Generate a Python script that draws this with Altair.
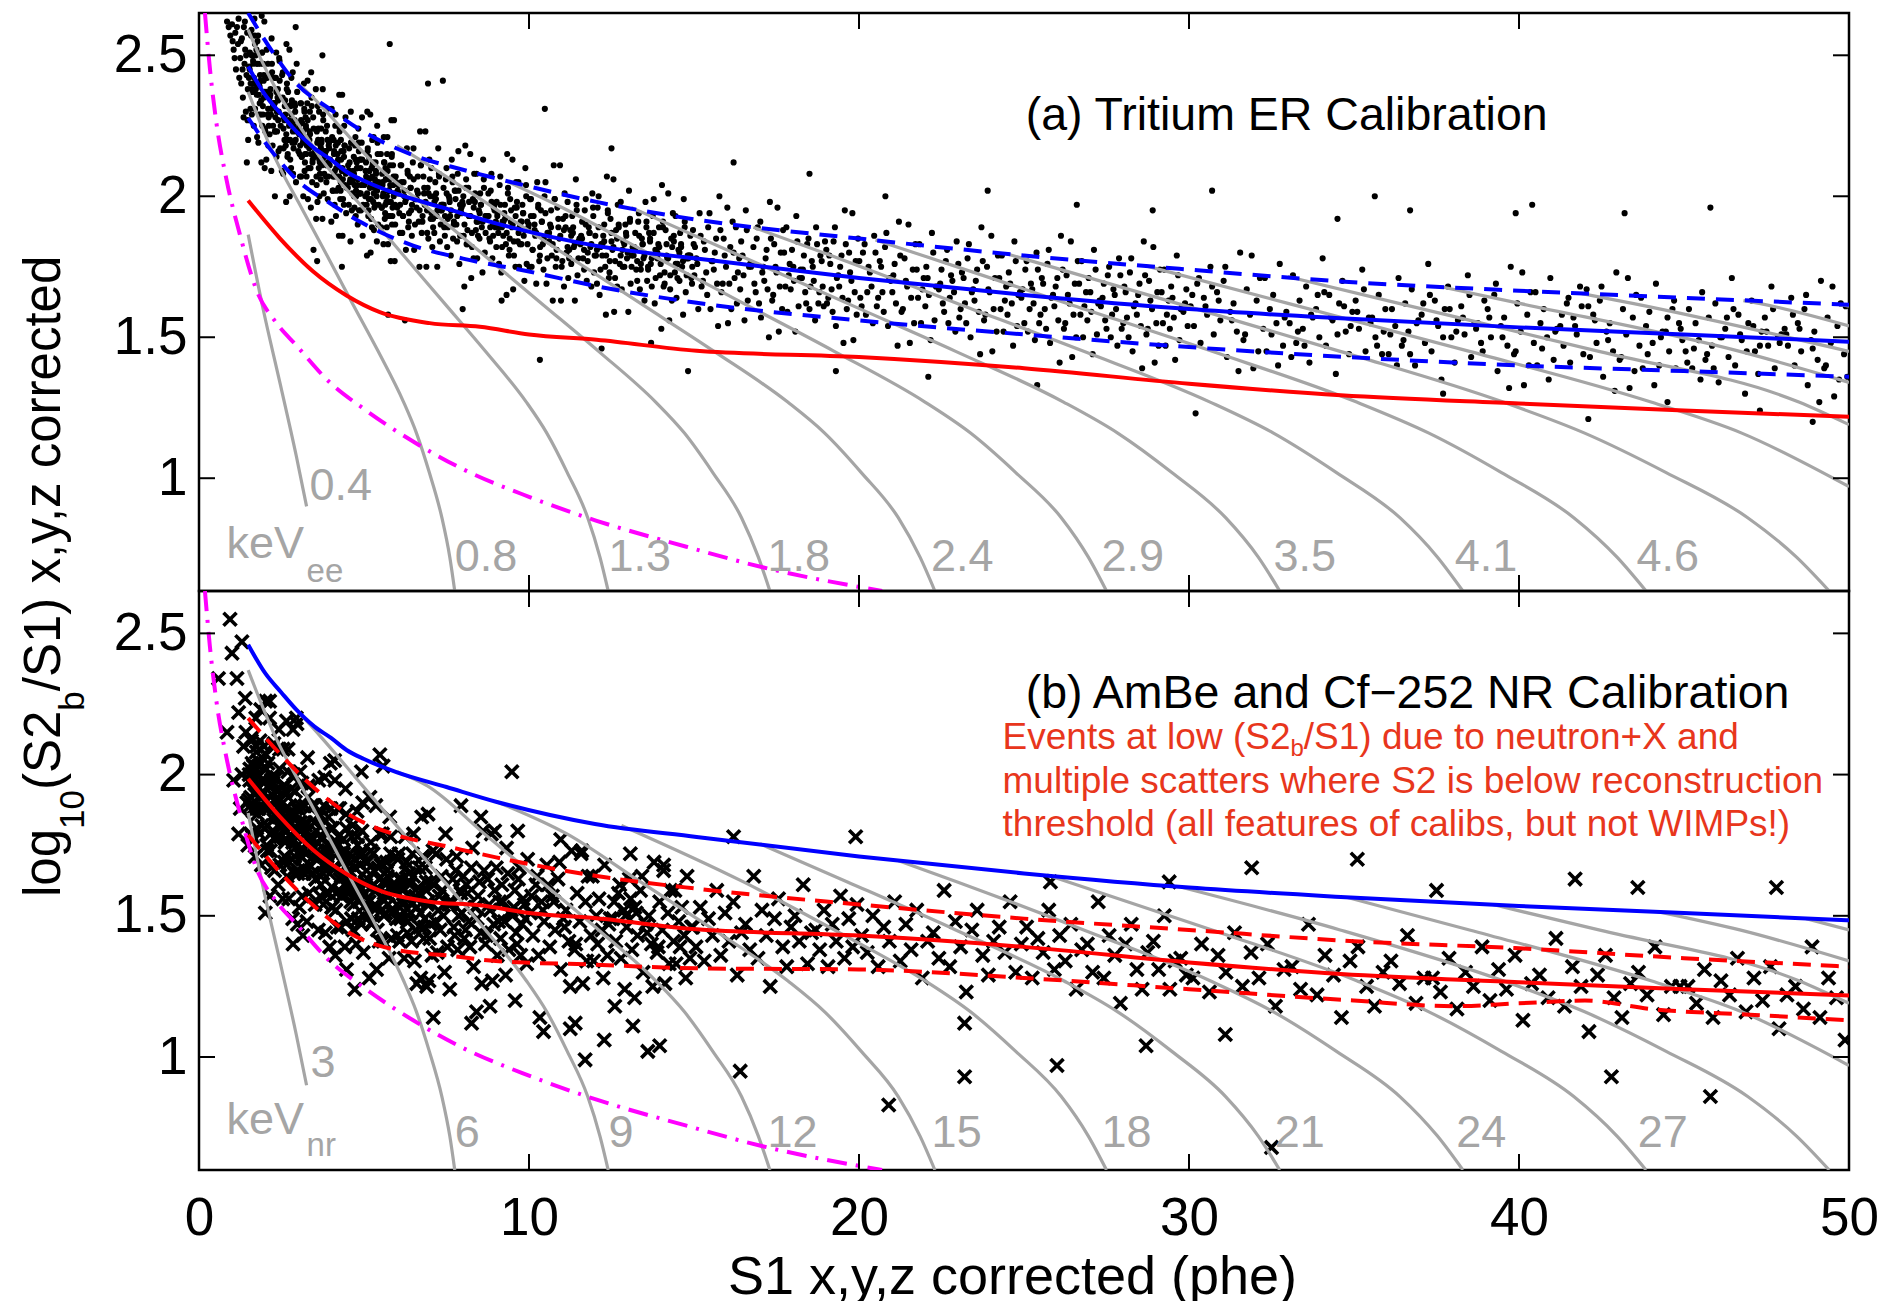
import altair as alt
import pandas as pd

FONT = "Liberation Sans"
GRAY = "#a5a5a5"
BLUE = "#0000ff"
RED = "#ff0000"
MAGENTA = "#ff00ff"
NOTE = "#e8361c"
W, H1, H2 = 1650, 578, 579

x_ticks = [0, 10, 20, 30, 40, 50]
y_ticks = [1, 1.5, 2, 2.5]

# ---------------- panel (a): tritium ER events (S1, log10(S2b/S1)) ----------------
er_points = [
(0.85,2.62),(0.95,2.57),(1.0,2.61),(1.05,2.52),(1.1,2.58),(1.12,2.45),(1.18,2.54),(1.2,2.63),(1.25,2.49),(1.28,2.4),(1.3,2.56),(1.33,2.35),(1.36,2.6),(1.38,2.47),(1.4,2.52),(1.42,2.3),(1.44,2.43),(1.46,2.58),(1.48,2.38),(1.49,2.2),
(1.52,2.46),(1.55,2.37),(1.58,2.57),(1.6,2.29),(1.63,2.5),(1.65,2.4),(1.68,2.63),(1.7,2.31),(1.72,2.5),(1.75,2.36),(1.77,2.55),(1.8,2.19),(1.82,2.4),(1.85,2.43),(1.87,2.29),(1.9,2.64),(1.92,2.25),(1.95,2.47),(1.97,2.35),(1.99,2.1),
(2.02,2.42),(2.05,2.52),(2.08,2.29),(2.1,2.18),(2.13,2.37),(2.15,2.43),(2.18,2.29),(2.2,2.56),(2.23,2.18),(2.25,2.33),(2.28,2.33),(2.3,2.23),(2.33,2.42),(2.35,2.14),(2.38,2.35),(2.4,2.27),(2.43,2.49),(2.46,2.17),
(2.52,2.43),(2.55,2.08),(2.57,2.28),(2.6,2.32),(2.63,2.18),(2.65,2.54),(2.68,2.14),(2.7,2.37),(2.73,2.25),(2.75,2.0),(2.78,2.32),(2.8,2.42),(2.83,2.19),(2.85,2.08),(2.88,2.27),(2.9,2.33),(2.93,2.2),(2.96,2.47),
(3.02,2.24),(3.05,2.15),(3.08,2.33),(3.1,2.07),(3.13,2.26),(3.15,2.19),(3.18,2.4),(3.2,2.09),(3.23,2.28),(3.25,2.15),(3.28,2.33),(3.3,1.99),(3.33,2.19),(3.35,2.23),(3.38,2.1),(3.4,2.44),(3.43,2.05),(3.46,2.28),
(3.52,2.16),(3.55,1.92),(3.57,2.23),(3.6,2.32),(3.63,2.1),(3.65,2.0),(3.68,2.18),(3.7,2.24),(3.73,2.11),(3.75,2.38),(3.78,2.01),(3.8,2.15),(3.83,2.16),(3.85,2.07),(3.88,2.25),(3.9,1.99),(3.93,2.18),(3.96,2.11),
(4.02,2.31),(4.05,2.02),(4.08,2.2),(4.1,2.07),(4.13,2.25),(4.15,1.93),(4.18,2.12),(4.2,2.15),(4.23,2.03),(4.25,2.36),(4.28,1.99),(4.3,2.2),(4.33,2.09),(4.35,1.86),(4.38,2.16),(4.4,2.25),(4.43,2.04),(4.46,1.94),
(4.52,2.11),(4.55,2.17),(4.57,2.05),(4.6,2.3),(4.63,1.95),(4.65,2.08),(4.68,2.09),(4.7,2.0),(4.73,2.18),(4.75,1.93),(4.78,2.12),(4.8,2.04),(4.83,2.24),(4.85,1.95),(4.88,2.13),(4.9,2.01),(4.93,2.19),(4.96,1.86),
(5.02,2.05),(5.05,2.09),(5.08,1.97),(5.1,2.3),(5.13,1.93),(5.15,2.14),(5.18,2.03),(5.2,1.8),(5.23,2.1),(5.25,2.2),(5.28,1.98),(5.3,1.88),(5.33,2.06),(5.35,2.12),(5.38,2.0),(5.4,2.25),(5.43,1.9),(5.46,2.04),
(5.52,1.89),(5.55,2.08),(5.57,2.0),(5.6,2.21),(5.63,1.92),(5.65,2.1),(5.68,1.98),(5.7,2.15),(5.73,1.83),(5.75,2.02),(5.78,2.06),(5.8,1.93),(5.83,2.27),(5.85,1.9),(5.88,2.11),(5.9,2.0),(5.93,1.77),(5.96,2.07),
(6.02,2.02),(6.07,1.94),(6.11,2.11),(6.16,1.87),(6.2,2.05),(6.25,1.98),(6.3,2.17),(6.34,1.89),(6.39,2.07),(6.43,1.95),(6.48,2.12),(6.52,1.81),(6.57,1.99),(6.61,2.02),(6.66,1.91),(6.7,2.23),(6.75,1.87),(6.8,2.07),(6.84,1.97),(6.89,1.75),(6.93,2.03),(6.98,2.13),
(7.02,1.92),(7.07,1.82),(7.11,2.0),(7.16,2.05),(7.2,1.93),(7.25,2.17),(7.3,1.84),(7.34,1.97),(7.39,1.97),(7.43,1.89),(7.48,2.06),(7.52,1.82),(7.57,2.0),(7.61,1.93),(7.66,2.13),(7.7,1.85),(7.75,2.02),(7.8,1.9),(7.84,2.08),(7.89,1.76),(7.93,1.95),(7.98,1.98),
(8.02,1.86),(8.07,2.18),(8.11,1.83),(8.16,2.03),(8.2,1.93),(8.25,1.71),(8.3,1.99),(8.34,2.08),(8.39,1.88),(8.43,1.78),(8.48,1.95),(8.52,2.01),(8.57,1.89),(8.61,2.13),(8.66,1.8),(8.7,1.93),(8.75,1.93),(8.8,1.85),(8.84,2.02),(8.89,1.78),(8.93,1.96),(8.98,1.89),
(9.02,1.98),(9.07,1.87),(9.11,2.04),(9.16,1.73),(9.2,1.91),(9.25,1.94),(9.3,1.83),(9.34,2.15),(9.39,1.79),(9.43,1.99),(9.48,1.89),(9.52,1.67),(9.57,1.96),(9.61,2.05),(9.66,1.84),(9.7,1.75),(9.75,1.91),(9.8,1.97),(9.84,1.86),(9.89,2.1),(9.93,1.76),(9.98,1.89),
(10.03,1.99),(10.08,1.75),(10.14,1.93),(10.19,1.86),(10.25,2.05),(10.31,1.77),(10.36,1.95),(10.42,1.83),(10.47,2.0),(10.53,1.69),(10.58,1.87),(10.64,1.9),(10.69,1.79),(10.75,2.11),(10.81,1.75),(10.86,1.96),(10.92,1.85),(10.97,1.63),
(11.03,1.92),(11.08,2.01),(11.14,1.8),(11.19,1.71),(11.25,1.88),(11.31,1.93),(11.36,1.82),(11.42,2.06),(11.47,1.72),(11.53,1.85),(11.58,1.86),(11.64,1.78),(11.69,1.95),(11.75,1.7),(11.81,1.89),(11.86,1.82),(11.92,2.01),(11.97,1.73),
(12.03,1.79),(12.08,1.96),(12.14,1.65),(12.19,1.83),(12.25,1.86),(12.31,1.75),(12.36,2.07),(12.42,1.71),(12.47,1.92),(12.53,1.81),(12.58,1.59),(12.64,1.88),(12.69,1.97),(12.75,1.76),(12.81,1.67),(12.86,1.84),(12.92,1.9),(12.97,1.78),
(13.03,2.02),(13.08,1.69),(13.14,1.82),(13.19,1.82),(13.25,1.74),(13.31,1.91),(13.36,1.67),(13.42,1.85),(13.47,1.78),(13.53,1.98),(13.58,1.7),(13.64,1.87),(13.69,1.76),(13.75,1.93),(13.81,1.62),(13.86,1.8),(13.92,1.83),(13.97,1.72),
(14.03,2.04),(14.08,1.68),(14.14,1.88),(14.19,1.78),(14.25,1.56),(14.31,1.85),(14.36,1.94),(14.42,1.73),(14.47,1.64),(14.53,1.81),(14.58,1.87),(14.64,1.75),(14.69,1.99),(14.75,1.66),(14.81,1.79),(14.86,1.79),(14.92,1.71),(14.97,1.88),
(15.03,1.82),(15.1,1.76),(15.17,1.94),(15.23,1.68),(15.3,1.84),(15.37,1.73),(15.43,1.89),(15.5,1.6),(15.57,1.77),(15.63,1.8),(15.7,1.69),(15.77,2.0),(15.83,1.66),(15.9,1.85),(15.97,1.75),
(16.03,1.55),(16.1,1.82),(16.17,1.91),(16.23,1.71),(16.3,1.62),(16.37,1.78),(16.43,1.84),(16.5,1.72),(16.57,1.95),(16.63,1.63),(16.7,1.76),(16.77,1.76),(16.83,1.69),(16.9,1.85),(16.97,1.62),
(17.03,1.57),(17.1,1.75),(17.17,1.78),(17.23,1.67),(17.3,1.98),(17.37,1.63),(17.43,1.83),(17.5,1.73),(17.57,1.52),(17.63,1.8),(17.7,1.88),(17.77,1.68),(17.83,1.59),(17.9,1.76),(17.97,1.81),
(18.03,1.7),(18.1,1.93),(18.17,1.61),(18.23,1.74),(18.3,1.74),(18.37,1.66),(18.43,1.83),(18.5,1.6),(18.57,1.77),(18.63,1.7),(18.7,1.89),(18.77,1.62),(18.83,1.79),(18.9,1.68),(18.97,1.84),
(19.03,1.62),(19.1,1.79),(19.17,1.67),(19.23,1.84),(19.3,1.54),(19.37,1.72),(19.43,1.75),(19.5,1.64),(19.57,1.95),(19.63,1.6),(19.7,1.8),(19.77,1.7),(19.83,1.49),(19.9,1.77),(19.97,1.85),
(20.04,1.64),(20.12,1.8),(20.21,1.58),(20.29,1.75),(20.38,1.68),(20.46,1.86),(20.54,1.61),(20.63,1.77),(20.71,1.66),(20.79,1.82),(20.88,1.54),(20.96,1.7),
(21.04,1.72),(21.12,1.62),(21.21,1.91),(21.29,1.59),(21.38,1.78),(21.46,1.68),(21.54,1.48),(21.63,1.74),(21.71,1.83),(21.79,1.64),(21.88,1.55),(21.96,1.71),
(22.04,1.75),(22.12,1.65),(22.21,1.87),(22.29,1.56),(22.38,1.68),(22.46,1.69),(22.54,1.62),(22.63,1.77),(22.71,1.55),(22.79,1.72),(22.88,1.66),(22.96,1.84),
(23.04,1.57),(23.12,1.73),(23.21,1.62),(23.29,1.78),(23.38,1.5),(23.46,1.67),(23.54,1.7),(23.63,1.59),(23.71,1.89),(23.79,1.56),(23.88,1.75),(23.96,1.66),
(24.04,1.45),(24.12,1.71),(24.21,1.79),(24.29,1.6),(24.38,1.52),(24.46,1.68),(24.54,1.73),(24.63,1.62),(24.71,1.84),(24.79,1.54),(24.88,1.66),(24.96,1.67),
(25.04,1.74),(25.12,1.52),(25.21,1.69),(25.29,1.62),(25.38,1.8),(25.46,1.55),(25.54,1.71),(25.63,1.6),(25.71,1.76),(25.79,1.48),(25.88,1.65),(25.96,1.68),
(26.04,1.56),(26.12,1.86),(26.21,1.53),(26.29,1.72),(26.38,1.62),(26.46,1.43),(26.54,1.69),(26.63,1.77),(26.71,1.58),(26.79,1.5),(26.88,1.66),(26.96,1.71),
(27.04,1.59),(27.12,1.81),(27.21,1.51),(27.29,1.63),(27.38,1.64),(27.46,1.56),(27.54,1.72),(27.63,1.5),(27.71,1.67),(27.79,1.6),(27.88,1.78),(27.96,1.53),
(28.04,1.68),(28.12,1.57),(28.21,1.73),(28.29,1.45),(28.38,1.62),(28.46,1.65),(28.54,1.54),(28.63,1.84),(28.71,1.51),(28.79,1.7),(28.88,1.6),(28.96,1.41),
(29.04,1.66),(29.12,1.74),(29.21,1.55),(29.29,1.47),(29.38,1.63),(29.46,1.68),(29.54,1.57),(29.63,1.79),(29.71,1.49),(29.79,1.61),(29.88,1.62),(29.96,1.54),
(30.05,1.61),(30.15,1.54),(30.25,1.69),(30.35,1.48),(30.45,1.64),(30.55,1.58),(30.65,1.75),(30.75,1.51),(30.85,1.66),(30.95,1.56),
(31.05,1.7),(31.15,1.43),(31.25,1.59),(31.35,1.62),(31.45,1.52),(31.55,1.8),(31.65,1.49),(31.75,1.67),(31.85,1.58),(31.95,1.39),
(32.05,1.63),(32.15,1.71),(32.25,1.53),(32.35,1.45),(32.45,1.6),(32.55,1.65),(32.65,1.55),(32.75,1.76),(32.85,1.47),(32.95,1.59),
(33.05,1.55),(33.15,1.72),(33.25,1.48),(33.35,1.63),(33.45,1.53),(33.55,1.68),(33.65,1.41),(33.75,1.57),(33.85,1.6),(33.95,1.5),
(34.05,1.78),(34.15,1.47),(34.25,1.65),(34.35,1.56),(34.45,1.37),(34.55,1.62),(34.65,1.7),(34.75,1.52),(34.85,1.44),(34.95,1.59),
(35.05,1.63),(35.15,1.53),(35.25,1.74),(35.35,1.45),(35.45,1.57),(35.55,1.57),(35.65,1.5),(35.75,1.65),(35.85,1.44),(35.95,1.6),
(36.05,1.44),(36.15,1.6),(36.25,1.54),(36.35,1.71),(36.45,1.47),(36.55,1.62),(36.65,1.52),(36.75,1.67),(36.85,1.4),(36.95,1.56),
(37.05,1.58),(37.15,1.48),(37.25,1.76),(37.35,1.45),(37.45,1.63),(37.55,1.54),(37.65,1.35),(37.75,1.6),(37.85,1.68),(37.95,1.5),
(38.05,1.41),(38.15,1.56),(38.25,1.61),(38.35,1.51),(38.45,1.72),(38.55,1.43),(38.65,1.55),(38.75,1.55),(38.85,1.48),(38.95,1.63),
(39.05,1.6),(39.15,1.5),(39.25,1.65),(39.35,1.38),(39.45,1.54),(39.55,1.57),(39.65,1.47),(39.75,1.75),(39.85,1.44),(39.95,1.62),
(40.05,1.52),(40.15,1.33),(40.25,1.58),(40.35,1.66),(40.45,1.48),(40.55,1.4),(40.65,1.55),(40.75,1.6),(40.85,1.5),(40.95,1.71),
(41.05,1.42),(41.15,1.53),(41.25,1.54),(41.35,1.47),(41.45,1.62),(41.55,1.41),(41.65,1.57),(41.75,1.51),(41.85,1.68),(41.95,1.44),
(42.05,1.67),(42.15,1.43),(42.25,1.58),(42.35,1.48),(42.45,1.63),(42.55,1.36),(42.65,1.52),(42.75,1.55),(42.85,1.45),(42.95,1.73),
(43.05,1.42),(43.15,1.6),(43.25,1.51),(43.35,1.32),(43.45,1.57),(43.55,1.65),(43.65,1.47),(43.75,1.39),(43.85,1.54),(43.95,1.59),
(44.05,1.48),(44.15,1.69),(44.25,1.4),(44.35,1.52),(44.45,1.52),(44.55,1.45),(44.65,1.6),(44.75,1.39),(44.85,1.55),(44.95,1.49),
(45.05,1.45),(45.15,1.6),(45.25,1.39),(45.35,1.55),(45.45,1.49),(45.55,1.66),(45.65,1.42),(45.75,1.57),(45.85,1.47),(45.95,1.62),
(46.05,1.34),(46.15,1.5),(46.25,1.53),(46.35,1.43),(46.45,1.71),(46.55,1.4),(46.65,1.58),(46.75,1.49),(46.85,1.3),(46.95,1.55),
(47.05,1.63),(47.15,1.45),(47.25,1.37),(47.35,1.52),(47.45,1.57),(47.55,1.47),(47.65,1.68),(47.75,1.39),(47.85,1.5),(47.95,1.51),
(48.05,1.53),(48.15,1.47),(48.25,1.64),(48.35,1.4),(48.45,1.55),(48.55,1.45),(48.65,1.6),(48.75,1.33),(48.85,1.49),(48.95,1.52),
(49.05,1.42),(49.15,1.7),(49.25,1.39),(49.35,1.57),(49.45,1.48),(49.55,1.29),(49.65,1.54),(49.75,1.62),(49.85,1.44),(49.95,1.36),
(5.78,2.54),(10.48,2.31),(7.39,2.41),(6.94,2.4),(3.74,2.5),(2.93,2.6),(10.33,1.42),(14.82,1.38),(7.99,1.6),(6.24,1.56),(5.73,1.58),
(2.3,2.0),(3.47,1.81),(3.58,1.77),(4.33,1.75),(9.17,1.63),(12.2,1.46),(13.7,1.48),(35.63,2.0),(40.4,1.97),(45.8,1.96),(42.1,1.21),
(48.9,1.2),(43.2,1.94),(36.7,1.95),(39.9,1.94),(30.7,2.02),(23.9,2.02),(34.5,1.92),(30.2,1.23),(37.7,1.3),(18.5,2.08),(12.5,2.17),
(16.2,2.12),(26.6,1.97),(28.9,1.95),(20.8,2.0),(22.1,1.36),(25.4,1.33),(19.3,1.38),(47.3,1.24),(44.5,1.27),
]

er_points_2 = [
(0.9,2.6),(1.02,2.55),(1.08,2.49),(1.15,2.6),(1.22,2.42),(1.27,2.55),(1.32,2.45),(1.35,2.28),(1.39,2.62),(1.43,2.5),(1.47,2.27),(1.45,2.12),
(1.51,2.42),(1.54,2.51),(1.56,2.31),(1.59,2.59),(1.61,2.38),(1.64,2.48),(1.66,2.25),(1.69,2.57),(1.71,2.38),(1.74,2.52),
(1.76,2.21),(1.79,2.57),(1.81,2.36),(1.84,2.33),(1.86,2.47),(1.89,2.12),(1.91,2.51),(1.94,2.29),(1.96,2.41),(1.98,2.62),
(2.01,2.23),(2.04,2.13),(2.06,2.36),(2.09,2.47),(2.11,2.28),(2.14,2.22),(2.16,2.36),(2.19,2.09),(2.21,2.47),(2.24,2.32),(2.26,2.32),(2.29,2.42),(2.31,2.23),(2.34,2.51),(2.36,2.3),(2.39,2.38),(2.41,2.16),(2.44,2.48),
(2.51,2.09),(2.54,2.44),(2.56,2.24),(2.59,2.2),(2.61,2.34),(2.64,1.98),(2.66,2.38),(2.69,2.15),(2.71,2.27),(2.74,2.52),(2.76,2.2),(2.79,2.1),(2.81,2.33),(2.84,2.44),(2.86,2.25),(2.89,2.19),(2.91,2.32),(2.94,2.05),
(3.01,2.16),(3.04,2.25),(3.06,2.07),(3.09,2.33),(3.11,2.14),(3.14,2.21),(3.16,2.0),(3.19,2.31),(3.21,2.12),(3.24,2.25),(3.26,2.07),(3.29,2.41),(3.31,2.21),(3.34,2.17),(3.36,2.3),(3.39,1.96),(3.41,2.35),(3.44,2.12),
(3.51,2.14),(3.54,2.38),(3.56,2.07),(3.59,1.98),(3.61,2.2),(3.64,2.3),(3.66,2.12),(3.69,2.06),(3.71,2.19),(3.74,1.92),(3.76,2.29),(3.79,2.15),(3.81,2.14),(3.84,2.23),(3.86,2.05),(3.89,2.31),(3.91,2.12),(3.94,2.19),
(4.01,1.91),(4.04,2.2),(4.06,2.02),(4.09,2.15),(4.11,1.97),(4.14,2.29),(4.16,2.1),(4.19,2.07),(4.21,2.19),(4.24,1.86),(4.26,2.23),(4.29,2.02),(4.31,2.13),(4.34,2.36),(4.36,2.06),(4.39,1.97),(4.41,2.18),(4.44,2.28),
(4.51,2.03),(4.54,1.97),(4.56,2.09),(4.59,1.84),(4.61,2.19),(4.64,2.06),(4.66,2.05),(4.69,2.14),(4.71,1.96),(4.74,2.21),(4.76,2.02),(4.79,2.1),(4.81,1.9),(4.84,2.19),(4.86,2.01),(4.89,2.13),(4.91,1.95),(4.94,2.28),
(5.01,2.04),(5.04,2.0),(5.06,2.12),(5.09,1.79),(5.11,2.16),(5.14,1.95),(5.16,2.06),(5.19,2.29),(5.21,1.99),(5.24,1.89),(5.26,2.11),(5.29,2.21),(5.31,2.03),(5.34,1.97),(5.36,2.09),(5.39,1.84),(5.41,2.19),(5.44,2.05),
(5.51,2.15),(5.54,1.96),(5.56,2.04),(5.59,1.83),(5.61,2.12),(5.64,1.94),(5.66,2.06),(5.69,1.89),(5.71,2.21),(5.74,2.02),(5.76,1.98),(5.79,2.11),(5.81,1.77),(5.84,2.14),(5.86,1.93),(5.89,2.04),(5.91,2.27),(5.94,1.97),
(6.01,1.96),(6.04,2.04),(6.09,1.87),(6.13,2.11),(6.18,1.93),(6.22,2.0),(6.27,1.81),(6.32,2.09),(6.36,1.91),(6.41,2.03),(6.45,1.86),(6.5,2.17),(6.54,1.99),(6.59,1.96),(6.63,2.07),(6.68,1.75),(6.72,2.11),(6.77,1.91),(6.82,2.01),(6.86,2.23),(6.91,1.95),(6.95,1.85),
(7.01,2.0),(7.04,2.1),(7.09,1.92),(7.13,1.87),(7.18,1.99),(7.22,1.75),(7.27,2.08),(7.32,1.95),(7.36,1.95),(7.41,2.03),(7.45,1.86),(7.5,2.1),(7.54,1.92),(7.59,1.99),(7.63,1.79),(7.68,2.07),(7.72,1.9),(7.77,2.02),(7.82,1.84),(7.86,2.16),(7.91,1.97),(7.95,1.94),
(8.01,2.0),(8.04,1.68),(8.09,2.03),(8.13,1.83),(8.18,1.93),(8.22,2.15),(8.27,1.87),(8.32,1.78),(8.36,1.98),(8.41,2.08),(8.45,1.91),(8.5,1.85),(8.54,1.97),(8.59,1.73),(8.63,2.06),(8.68,1.93),(8.72,1.93),(8.77,2.01),(8.82,1.84),(8.86,2.08),(8.91,1.9),(8.95,1.97),
(9.01,1.82),(9.04,1.93),(9.09,1.76),(9.13,2.07),(9.18,1.89),(9.22,1.86),(9.27,1.97),(9.32,1.65),(9.36,2.01),(9.41,1.81),(9.45,1.91),(9.5,2.13),(9.54,1.84),(9.59,1.75),(9.63,1.96),(9.68,2.05),(9.72,1.89),(9.77,1.83),(9.82,1.94),(9.86,1.7),(9.91,2.04),(9.95,1.91),
(10.01,1.75),(10.06,1.99),(10.11,1.81),(10.17,1.88),(10.22,1.69),(10.28,1.97),(10.33,1.79),(10.39,1.91),(10.44,1.74),(10.5,2.05),(10.56,1.87),(10.61,1.84),(10.67,1.95),(10.72,1.63),(10.78,1.99),(10.83,1.78),(10.89,1.89),(10.94,2.11),
(11.01,1.77),(11.06,1.68),(11.11,1.89),(11.17,1.98),(11.22,1.81),(11.28,1.76),(11.33,1.87),(11.39,1.63),(11.44,1.97),(11.5,1.84),(11.56,1.83),(11.61,1.91),(11.67,1.74),(11.72,1.99),(11.78,1.8),(11.83,1.87),(11.89,1.68),(11.94,1.96),
(12.01,1.86),(12.06,1.69),(12.11,2.0),(12.17,1.82),(12.22,1.79),(12.28,1.9),(12.33,1.58),(12.39,1.94),(12.44,1.73),(12.5,1.84),(12.56,2.06),(12.61,1.77),(12.67,1.68),(12.72,1.89),(12.78,1.98),(12.83,1.81),(12.89,1.75),(12.94,1.87),
(13.01,1.59),(13.06,1.92),(13.11,1.79),(13.17,1.79),(13.22,1.87),(13.28,1.7),(13.33,1.94),(13.39,1.76),(13.44,1.83),(13.5,1.63),(13.56,1.91),(13.61,1.74),(13.67,1.85),(13.72,1.68),(13.78,1.99),(13.83,1.81),(13.89,1.78),(13.94,1.89),
(14.01,1.53),(14.06,1.89),(14.11,1.69),(14.17,1.79),(14.22,2.01),(14.28,1.72),(14.33,1.63),(14.39,1.84),(14.44,1.93),(14.5,1.76),(14.56,1.7),(14.61,1.82),(14.67,1.58),(14.72,1.91),(14.78,1.78),(14.83,1.78),(14.89,1.86),(14.94,1.69),
(15.01,1.72),(15.07,1.78),(15.13,1.6),(15.2,1.86),(15.27,1.7),(15.33,1.81),(15.4,1.65),(15.47,1.94),(15.53,1.77),(15.6,1.74),(15.67,1.85),(15.73,1.54),(15.8,1.88),(15.87,1.69),(15.93,1.79),
(16.01,1.96),(16.07,1.69),(16.13,1.6),(16.2,1.8),(16.27,1.89),(16.33,1.73),(16.4,1.67),(16.47,1.79),(16.53,1.56),(16.6,1.88),(16.67,1.75),(16.73,1.75),(16.8,1.82),(16.87,1.66),(16.93,1.89),
(17.01,1.91),(17.07,1.73),(17.13,1.7),(17.2,1.81),(17.27,1.5),(17.33,1.85),(17.4,1.65),(17.47,1.75),(17.53,1.96),(17.6,1.68),(17.67,1.6),(17.73,1.8),(17.8,1.89),(17.87,1.72),(17.93,1.67),
(18.01,1.75),(18.07,1.52),(18.13,1.84),(18.2,1.71),(18.27,1.71),(18.33,1.79),(18.4,1.62),(18.47,1.85),(18.53,1.68),(18.6,1.75),(18.67,1.56),(18.73,1.83),(18.8,1.66),(18.87,1.77),(18.93,1.61),
(19.01,1.81),(19.07,1.64),(19.13,1.76),(19.2,1.59),(19.27,1.89),(19.33,1.71),(19.4,1.68),(19.47,1.79),(19.53,1.48),(19.6,1.83),(19.67,1.63),(19.73,1.73),(19.8,1.94),(19.87,1.66),(19.93,1.58),
(20.01,1.77),(20.08,1.61),(20.17,1.83),(20.25,1.66),(20.33,1.73),(20.42,1.55),(20.5,1.8),(20.58,1.64),(20.67,1.75),(20.75,1.59),(20.83,1.87),(20.92,1.71),
(21.01,1.66),(21.08,1.76),(21.17,1.47),(21.25,1.79),(21.33,1.6),(21.42,1.7),(21.5,1.9),(21.58,1.64),(21.67,1.55),(21.75,1.74),(21.83,1.83),(21.92,1.67),
(22.01,1.61),(22.08,1.71),(22.17,1.49),(22.25,1.8),(22.33,1.68),(22.42,1.67),(22.5,1.74),(22.58,1.59),(22.67,1.81),(22.75,1.64),(22.83,1.7),(22.92,1.52),
(23.01,1.76),(23.08,1.6),(23.17,1.71),(23.25,1.55),(23.33,1.83),(23.42,1.66),(23.5,1.63),(23.58,1.74),(23.67,1.44),(23.75,1.77),(23.83,1.58),(23.92,1.67),
(24.01,1.86),(24.08,1.6),(24.17,1.52),(24.25,1.71),(24.33,1.79),(24.42,1.63),(24.5,1.58),(24.58,1.69),(24.67,1.47),(24.75,1.77),(24.83,1.65),(24.92,1.64),
(25.01,1.55),(25.08,1.77),(25.17,1.6),(25.25,1.67),(25.33,1.49),(25.42,1.74),(25.5,1.58),(25.58,1.69),(25.67,1.53),(25.75,1.81),(25.83,1.64),(25.92,1.61),
(26.01,1.71),(26.08,1.41),(26.17,1.74),(26.25,1.55),(26.33,1.65),(26.42,1.84),(26.5,1.58),(26.58,1.5),(26.67,1.69),(26.75,1.77),(26.83,1.61),(26.92,1.56),
(27.01,1.66),(27.08,1.44),(27.17,1.74),(27.25,1.62),(27.33,1.61),(27.42,1.69),(27.5,1.53),(27.58,1.75),(27.67,1.58),(27.75,1.65),(27.83,1.47),(27.92,1.72),
(28.01,1.55),(28.08,1.66),(28.17,1.5),(28.25,1.78),(28.33,1.61),(28.42,1.58),(28.5,1.69),(28.58,1.39),(28.67,1.72),(28.75,1.53),(28.83,1.63),(28.92,1.82),
(29.01,1.55),(29.08,1.47),(29.17,1.66),(29.25,1.74),(29.33,1.58),(29.42,1.53),(29.5,1.64),(29.58,1.42),(29.67,1.72),(29.75,1.6),(29.83,1.59),(29.92,1.67),
(30.1,1.65),(30.3,1.71),(30.5,1.61),(30.7,1.68),(30.9,1.63),(31.1,1.75),(31.3,1.56),(31.5,1.38),(31.7,1.51),(31.9,1.79),
(32.1,1.45),(32.3,1.71),(32.5,1.51),(32.7,1.4),(32.9,1.57),(33.1,1.43),(33.3,1.52),(33.5,1.47),(33.7,1.58),(33.9,1.65),
(34.1,1.66),(34.3,1.57),(34.5,1.51),(34.7,1.61),(34.9,1.54),(35.1,1.59),(35.3,1.67),(35.5,1.55),(35.7,1.47),(35.9,1.52),
(36.1,1.51),(36.3,1.4),(36.5,1.49),(36.7,1.44),(36.9,1.55),(37.1,1.62),(37.3,1.65),(37.5,1.56),(37.7,1.5),(37.9,1.6),
(38.1,1.52),(38.3,1.57),(38.5,1.65),(38.7,1.53),(38.9,1.45),(39.1,1.57),(39.3,1.69),(39.5,1.5),(39.7,1.32),(39.9,1.45),
(40.1,1.73),(40.3,1.4),(40.5,1.66),(40.7,1.46),(40.9,1.35),(41.1,1.52),(41.3,1.58),(41.5,1.64),(41.7,1.54),(41.9,1.61),
(42.1,1.61),(42.3,1.56),(42.5,1.68),(42.7,1.49),(42.9,1.31),(43.1,1.43),(43.3,1.71),(43.5,1.38),(43.7,1.64),(43.9,1.44),
(44.1,1.33),(44.3,1.5),(44.5,1.57),(44.7,1.63),(44.9,1.53),(45.1,1.41),(45.3,1.46),(45.5,1.35),(45.7,1.44),(45.9,1.39),
(46.1,1.5),(46.3,1.57),(46.5,1.6),(46.7,1.51),(46.9,1.45),(47.1,1.54),(47.3,1.47),(47.5,1.52),(47.7,1.6),(47.9,1.48),
(48.1,1.51),(48.3,1.58),(48.5,1.53),(48.7,1.65),(48.9,1.46),(49.1,1.27),(49.3,1.4),(49.5,1.68),(49.7,1.35),(49.9,1.61),
]

# dense core of the ER band (S1 < 15)
er_points_3 = [
(1.535,2.45),(1.565,2.4),(1.595,2.5),(1.615,2.37),(1.645,2.47),(1.665,2.42),(1.695,2.54),(1.715,2.38),(1.735,2.47),(1.765,2.4),
(1.785,2.47),(1.815,2.29),(1.835,2.39),(1.865,2.41),(1.885,2.34),(1.915,2.51),(1.935,2.32),(1.965,2.43),(1.985,2.37),(2.0,2.24),
(2.035,2.37),(2.065,2.42),(2.095,2.31),(2.115,2.25),(2.145,2.35),(2.165,2.38),(2.195,2.31),(2.215,2.44),(2.245,2.25),(2.265,2.33),(2.295,2.33),(2.315,2.28),(2.345,2.37),(2.365,2.23),(2.395,2.34),(2.415,2.3),(2.445,2.41),(2.475,2.25),
(2.535,2.35),(2.565,2.17),(2.585,2.27),(2.615,2.29),(2.645,2.22),(2.665,2.4),(2.695,2.2),(2.715,2.32),(2.745,2.26),(2.765,2.13),(2.795,2.29),(2.815,2.34),(2.845,2.23),(2.865,2.17),(2.895,2.27),(2.915,2.3),(2.945,2.23),(2.975,2.37),
(3.035,2.22),(3.065,2.18),(3.095,2.27),(3.115,2.14),(3.145,2.23),(3.165,2.2),(3.195,2.3),(3.215,2.15),(3.245,2.24),(3.265,2.18),(3.295,2.27),(3.315,2.1),(3.345,2.2),(3.365,2.22),(3.395,2.15),(3.415,2.32),(3.445,2.13),(3.475,2.24),
(3.535,2.16),(3.565,2.04),(3.585,2.19),(3.615,2.24),(3.645,2.13),(3.665,2.08),(3.695,2.17),(3.715,2.2),(3.745,2.13),(3.765,2.27),(3.795,2.08),(3.815,2.15),(3.845,2.16),(3.865,2.11),(3.895,2.2),(3.915,2.07),(3.945,2.17),(3.975,2.13),
(4.035,2.21),(4.065,2.07),(4.095,2.16),(4.115,2.09),(4.145,2.18),(4.165,2.02),(4.195,2.12),(4.215,2.13),(4.245,2.07),(4.265,2.24),(4.295,2.05),(4.315,2.16),(4.345,2.1),(4.365,1.99),(4.395,2.14),(4.415,2.18),(4.445,2.08),(4.475,2.03),
(4.535,2.09),(4.565,2.12),(4.585,2.06),(4.615,2.19),(4.645,2.01),(4.665,2.08),(4.695,2.08),(4.715,2.04),(4.745,2.13),(4.765,2.0),(4.795,2.1),(4.815,2.06),(4.845,2.16),(4.865,2.01),(4.895,2.1),(4.915,2.04),(4.945,2.13),(4.975,1.97),
(5.035,2.05),(5.065,2.07),(5.095,2.01),(5.115,2.17),(5.145,1.99),(5.165,2.09),(5.195,2.04),(5.215,1.92),(5.245,2.07),(5.265,2.12),(5.295,2.01),(5.315,1.96),(5.345,2.05),(5.365,2.08),(5.395,2.02),(5.415,2.15),(5.445,1.97),(5.475,2.04),
(5.535,1.96),(5.565,2.05),(5.585,2.01),(5.615,2.12),(5.645,1.97),(5.665,2.06),(5.695,2.0),(5.715,2.09),(5.745,1.93),(5.765,2.02),(5.795,2.04),(5.815,1.98),(5.845,2.15),(5.865,1.96),(5.895,2.07),(5.915,2.01),(5.945,1.9),(5.975,2.05),
(6.045,2.01),(6.095,1.97),(6.135,2.05),(6.185,1.93),(6.225,2.02),(6.275,1.99),(6.325,2.08),(6.365,1.94),(6.415,2.03),(6.455,1.97),(6.505,2.06),(6.545,1.9),(6.595,1.99),(6.635,2.01),(6.685,1.95),(6.725,2.11),(6.775,1.93),(6.825,2.03),(6.865,1.98),(6.915,1.87),(6.955,2.01),(6.995,2.06),
(7.045,1.94),(7.095,1.89),(7.135,1.98),(7.185,2.01),(7.225,1.95),(7.275,2.07),(7.325,1.9),(7.365,1.97),(7.415,1.97),(7.455,1.93),(7.505,2.01),(7.545,1.89),(7.595,1.98),(7.635,1.95),(7.685,2.05),(7.725,1.91),(7.775,1.99),(7.825,1.93),(7.865,2.02),(7.915,1.86),(7.955,1.96),(7.995,1.97),
(8.045,1.9),(8.095,2.06),(8.135,1.88),(8.185,1.98),(8.225,1.93),(8.275,1.82),(8.325,1.96),(8.365,2.01),(8.415,1.91),(8.455,1.86),(8.505,1.94),(8.545,1.97),(8.595,1.91),(8.635,2.03),(8.685,1.87),(8.725,1.93),(8.775,1.93),(8.825,1.89),(8.865,1.98),(8.915,1.86),(8.955,1.95),(8.995,1.91),
(9.045,1.94),(9.095,1.89),(9.135,1.97),(9.185,1.82),(9.225,1.91),(9.275,1.92),(9.325,1.87),(9.365,2.03),(9.415,1.85),(9.455,1.95),(9.505,1.9),(9.545,1.79),(9.595,1.93),(9.635,1.98),(9.685,1.87),(9.725,1.83),(9.775,1.91),(9.825,1.94),(9.865,1.88),(9.915,2.0),(9.955,1.83),(9.995,1.9),
(10.058,1.93),(10.108,1.81),(10.168,1.9),(10.218,1.87),(10.278,1.96),(10.338,1.82),(10.388,1.91),(10.448,1.85),(10.498,1.94),(10.558,1.78),(10.608,1.87),(10.668,1.89),(10.718,1.83),(10.778,1.99),(10.838,1.81),(10.888,1.92),(10.948,1.86),(10.99,1.75),
(11.058,1.88),(11.108,1.93),(11.168,1.82),(11.218,1.78),(11.278,1.86),(11.338,1.89),(11.388,1.83),(11.448,1.95),(11.498,1.78),(11.558,1.85),(11.608,1.85),(11.668,1.81),(11.718,1.9),(11.778,1.77),(11.838,1.87),(11.888,1.83),(11.948,1.93),(11.99,1.79),
(12.058,1.81),(12.108,1.89),(12.168,1.74),(12.218,1.83),(12.278,1.84),(12.338,1.79),(12.388,1.95),(12.448,1.77),(12.498,1.87),(12.558,1.82),(12.608,1.71),(12.668,1.85),(12.718,1.9),(12.778,1.79),(12.838,1.75),(12.888,1.83),(12.948,1.86),(12.99,1.8),
(13.058,1.91),(13.108,1.75),(13.168,1.81),(13.218,1.81),(13.278,1.77),(13.338,1.86),(13.388,1.74),(13.448,1.83),(13.498,1.79),(13.558,1.89),(13.608,1.75),(13.668,1.84),(13.718,1.78),(13.778,1.87),(13.838,1.71),(13.888,1.8),(13.948,1.82),(13.99,1.76),
(14.058,1.91),(14.108,1.73),(14.168,1.83),(14.218,1.78),(14.278,1.67),(14.338,1.82),(14.388,1.86),(14.448,1.76),(14.498,1.71),(14.558,1.8),(14.608,1.83),(14.668,1.77),(14.718,1.89),(14.778,1.72),(14.838,1.79),(14.888,1.79),(14.948,1.75),(14.99,1.83),
]

# ---------------- panel (b): AmBe / Cf-252 NR events ----------------
nr_points = [
(0.59,2.34),(0.94,2.55),(1.0,2.43),(1.3,2.47),(1.15,2.34),(0.85,2.15),(1.2,2.22),(1.05,1.98),(1.2,1.79),(1.4,2.27),(1.35,2.1),(1.45,1.9),(1.3,2.0),(1.42,2.15),(1.48,1.75),(1.25,1.88),
(1.52,2.0),(1.55,1.89),(1.59,2.12),(1.62,1.78),(1.65,2.03),(1.69,1.93),(1.72,2.2),(1.75,1.81),(1.79,2.05),(1.82,1.88),(1.85,2.12),(1.89,1.68),(1.92,1.93),(1.95,1.98),(1.98,1.81),
(2.02,2.26),(2.05,1.75),(2.09,2.04),(2.12,1.89),(2.15,1.57),(2.19,1.98),(2.22,2.1),(2.25,1.8),(2.29,1.66),(2.32,1.91),(2.35,1.99),(2.39,1.82),(2.42,2.16),(2.45,1.68),(2.48,1.86),
(2.52,1.82),(2.55,2.09),(2.59,1.69),(2.62,1.94),(2.65,1.77),(2.69,2.01),(2.72,1.56),(2.75,1.83),(2.79,1.87),(2.82,1.7),(2.85,2.16),(2.89,1.65),(2.92,1.94),(2.95,1.79),(2.98,1.47),
(3.02,1.88),(3.06,2.01),(3.1,1.71),(3.13,1.57),(3.17,1.81),(3.21,1.89),(3.25,1.72),(3.29,2.06),(3.33,1.58),(3.37,1.76),(3.4,1.77),(3.44,1.65),(3.48,1.89),
(3.52,1.54),(3.56,1.8),(3.6,1.7),(3.63,1.98),(3.67,1.57),(3.71,1.82),(3.75,1.65),(3.79,1.89),(3.83,1.44),(3.87,1.7),(3.9,1.75),(3.94,1.58),(3.98,2.04),
(4.02,1.53),(4.06,1.81),(4.1,1.67),(4.13,1.36),(4.17,1.76),(4.21,1.88),(4.25,1.59),(4.29,1.46),(4.33,1.7),(4.37,1.77),(4.4,1.61),(4.44,1.95),(4.48,1.48),
(4.52,1.66),(4.56,1.66),(4.6,1.55),(4.63,1.78),(4.67,1.45),(4.71,1.7),(4.75,1.6),(4.79,1.87),(4.83,1.49),(4.87,1.72),(4.9,1.56),(4.94,1.8),(4.98,1.37),
(5.03,1.62),(5.08,1.66),(5.13,1.51),(5.18,1.92),(5.23,1.47),(5.28,1.72),(5.33,1.59),(5.38,1.31),(5.43,1.67),(5.48,1.79),(5.53,1.52),(5.58,1.41),(5.63,1.62),(5.68,1.69),(5.73,1.54),(5.78,1.85),(5.83,1.42),(5.88,1.59),(5.93,1.59),(5.98,1.49),
(6.03,1.7),(6.08,1.41),(6.14,1.63),(6.19,1.54),(6.25,1.78),(6.31,1.44),(6.36,1.65),(6.42,1.51),(6.47,1.72),(6.53,1.34),(6.58,1.56),(6.64,1.6),(6.69,1.46),(6.75,1.85),(6.81,1.42),(6.86,1.67),(6.92,1.54),(6.97,1.27),
(7.03,1.62),(7.09,1.73),(7.16,1.48),(7.22,1.37),(7.28,1.57),(7.34,1.64),(7.41,1.5),(7.47,1.79),(7.53,1.39),(7.59,1.55),(7.66,1.55),(7.72,1.46),(7.78,1.66),(7.84,1.38),(7.91,1.59),(7.97,1.51),
(8.04,1.42),(8.11,1.61),(8.18,1.48),(8.25,1.67),(8.32,1.32),(8.39,1.53),(8.46,1.57),(8.54,1.44),(8.61,1.8),(8.68,1.4),(8.75,1.63),(8.82,1.52),(8.89,1.27),(8.96,1.59),
(9.04,1.36),(9.11,1.55),(9.18,1.61),(9.25,1.48),(9.32,1.74),(9.39,1.38),(9.46,1.52),(9.54,1.53),(9.61,1.44),(9.68,1.63),(9.75,1.36),(9.82,1.56),(9.89,1.49),(9.96,1.7),
(10.04,1.51),(10.12,1.43),(10.21,1.61),(10.29,1.36),(10.38,1.55),(10.46,1.48),(10.54,1.68),(10.63,1.39),(10.71,1.57),(10.79,1.45),(10.88,1.63),(10.96,1.31),
(11.04,1.49),(11.12,1.52),(11.21,1.41),(11.29,1.73),(11.38,1.38),(11.46,1.58),(11.54,1.48),(11.63,1.26),(11.71,1.55),(11.79,1.64),(11.88,1.43),(11.96,1.34),
(12.04,1.5),(12.12,1.56),(12.21,1.45),(12.29,1.68),(12.38,1.36),(12.46,1.49),(12.54,1.49),(12.63,1.41),(12.71,1.58),(12.79,1.35),(12.88,1.52),(12.96,1.46),
(13.04,1.63),(13.12,1.38),(13.21,1.53),(13.29,1.43),(13.38,1.59),(13.46,1.3),(13.54,1.47),(13.63,1.5),(13.71,1.4),(13.79,1.69),(13.88,1.37),(13.96,1.55),
(14.04,1.45),(14.12,1.26),(14.21,1.51),(14.29,1.59),(14.38,1.41),(14.46,1.33),(14.54,1.48),(14.63,1.53),(14.71,1.43),(14.79,1.64),(14.88,1.35),(14.96,1.46),
(15.06,1.39),(15.19,1.53),(15.31,1.34),(15.44,1.49),(15.56,1.43),(15.69,1.59),(15.81,1.36),(15.94,1.51),
(16.06,1.41),(16.19,1.55),(16.31,1.29),(16.44,1.44),(16.56,1.47),(16.69,1.38),(16.81,1.64),(16.94,1.35),
(17.06,1.52),(17.19,1.43),(17.31,1.25),(17.44,1.49),(17.56,1.56),(17.69,1.39),(17.81,1.32),(17.94,1.46),
(18.06,1.5),(18.19,1.41),(18.31,1.61),(18.44,1.33),(18.56,1.44),(18.69,1.45),(18.81,1.38),(18.94,1.52),
(19.06,1.32),(19.19,1.47),(19.31,1.41),(19.44,1.57),(19.56,1.35),(19.69,1.49),(19.81,1.39),(19.94,1.54),
(20.08,1.43),(20.25,1.37),(20.42,1.5),(20.58,1.32),(20.75,1.46),(20.92,1.41),
(21.08,1.55),(21.25,1.34),(21.42,1.47),(21.58,1.38),(21.75,1.52),(21.92,1.28),
(22.08,1.41),(22.25,1.44),(22.42,1.35),(22.58,1.59),(22.75,1.32),(22.92,1.48),
(23.08,1.39),(23.25,1.23),(23.42,1.45),(23.58,1.52),(23.75,1.36),(23.92,1.29),
(24.08,1.41),(24.25,1.46),(24.42,1.37),(24.58,1.55),(24.75,1.3),(24.92,1.4),
(25.08,1.46),(25.25,1.28),(25.42,1.42),(25.58,1.37),(25.75,1.52),(25.92,1.31),
(26.08,1.43),(26.25,1.34),(26.42,1.47),(26.58,1.24),(26.75,1.38),(26.92,1.4),
(27.08,1.3),(27.25,1.55),(27.42,1.28),(27.58,1.43),(27.75,1.36),(27.92,1.19),
(28.08,1.4),(28.25,1.47),(28.42,1.31),(28.58,1.24),(28.75,1.37),(28.92,1.41),
(29.08,1.31),(29.25,1.5),(29.42,1.24),(29.58,1.34),(29.75,1.35),(29.92,1.29),
(30.12,1.28),(30.38,1.4),(30.62,1.23),(30.88,1.36),(31.12,1.3),(31.38,1.44),(31.62,1.25),(31.88,1.37),
(32.12,1.28),(32.38,1.4),(32.62,1.18),(32.88,1.31),(33.12,1.32),(33.38,1.24),(33.62,1.47),(33.88,1.22),
(34.12,1.36),(34.38,1.29),(34.62,1.14),(34.88,1.34),(35.12,1.39),(35.38,1.25),(35.62,1.18),(35.88,1.3),
(36.12,1.34),(36.38,1.26),(36.62,1.43),(36.88,1.19),(37.12,1.28),(37.38,1.28),(37.62,1.23),(37.88,1.35),
(38.12,1.17),(38.38,1.3),(38.62,1.25),(38.88,1.39),(39.12,1.2),(39.38,1.31),(39.62,1.24),(39.88,1.36),
(40.12,1.13),(40.38,1.26),(40.62,1.29),(40.88,1.21),(41.12,1.42),(41.38,1.18),(41.62,1.32),(41.88,1.25),
(42.12,1.09),(42.38,1.29),(42.62,1.36),(42.88,1.21),(43.12,1.14),(43.38,1.26),(43.62,1.3),(43.88,1.22),
(44.12,1.39),(44.38,1.15),(44.62,1.25),(44.88,1.25),(45.12,1.25),(45.38,1.19),(45.62,1.31),(45.88,1.14),
(46.12,1.27),(46.38,1.22),(46.62,1.35),(46.88,1.16),(47.12,1.28),(47.38,1.2),(47.62,1.32),(47.88,1.1),
(48.12,1.22),(48.38,1.25),(48.62,1.17),(48.88,1.39),(49.12,1.14),(49.38,1.28),(49.62,1.21),(49.88,1.06),
(4.47,1.31),(4.72,1.24),(7.1,1.14),(8.26,1.12),(8.41,1.16),(8.82,1.18),(9.58,1.2),(10.44,1.09),(11.25,1.1),(11.4,1.12),
(11.7,0.99),(12.28,1.06),(12.6,1.18),(13.15,1.11),(13.6,1.02),(13.96,1.04),(12.9,1.24),(13.2,1.21),(9.48,2.01),(2.85,1.4),
(3.15,1.43),(10.33,1.14),(7.6,1.24),(6.6,1.26),(6.9,1.25),(5.48,2.07),(5.58,2.03),(7.94,1.89),(8.54,1.85),(9.66,1.8),
(8.96,1.8),(10.96,1.77),(11.6,1.73),(13.07,1.72),(14.08,1.68),(4.92,2.01),(4.11,2.05),(2.65,2.19),(2.95,2.2),(2.14,2.26),
(16.4,0.95),(20.9,0.83),(23.2,0.93),(23.2,1.12),(26.0,0.97),(28.7,1.04),(31.1,1.08),(32.5,0.68),(42.8,0.93),(45.8,0.86),
(35.1,1.7),(41.7,1.63),(47.8,1.6),(31.9,1.67),(19.9,1.78),(16.2,1.78),(25.8,1.62),(29.4,1.62),(37.5,1.59),(43.6,1.6),
]

nr_points_2 = [
(1.51,1.91),(1.54,2.02),(1.57,1.79),(1.6,2.13),(1.64,1.88),(1.67,1.98),(1.7,1.71),(1.74,2.1),(1.77,1.86),(1.8,2.03),(1.84,1.79),(1.87,2.23),(1.9,1.98),(1.94,1.93),(1.97,2.1),
(2.01,1.51),(2.04,2.02),(2.07,1.73),(2.1,1.88),(2.14,2.2),(2.17,1.79),(2.2,1.67),(2.24,1.97),(2.27,2.11),(2.3,1.86),(2.34,1.78),(2.37,1.95),(2.4,1.61),(2.44,2.09),(2.47,1.91),
(2.51,1.83),(2.54,1.56),(2.57,1.96),(2.6,1.71),(2.64,1.88),(2.67,1.64),(2.7,2.09),(2.74,1.82),(2.77,1.78),(2.8,1.95),(2.84,1.49),(2.87,2.0),(2.9,1.71),(2.94,1.86),(2.97,2.18),
(3.01,1.66),(3.04,1.53),(3.08,1.83),(3.12,1.97),(3.15,1.73),(3.19,1.65),(3.23,1.82),(3.27,1.48),(3.31,1.96),(3.35,1.78),(3.38,1.77),(3.42,1.89),(3.46,1.65),
(3.51,1.89),(3.54,1.63),(3.58,1.73),(3.62,1.45),(3.65,1.86),(3.69,1.61),(3.73,1.78),(3.77,1.54),(3.81,1.99),(3.85,1.73),(3.88,1.68),(3.92,1.85),(3.96,1.39),
(4.01,1.81),(4.04,1.53),(4.08,1.67),(4.12,1.98),(4.15,1.58),(4.19,1.46),(4.23,1.75),(4.27,1.88),(4.31,1.64),(4.35,1.57),(4.38,1.73),(4.42,1.39),(4.46,1.86),
(4.51,1.61),(4.54,1.61),(4.58,1.72),(4.62,1.49),(4.65,1.82),(4.69,1.57),(4.73,1.67),(4.77,1.4),(4.81,1.78),(4.85,1.55),(4.88,1.71),(4.92,1.47),(4.96,1.9),
(5.01,1.58),(5.06,1.54),(5.11,1.69),(5.16,1.28),(5.21,1.73),(5.26,1.48),(5.31,1.61),(5.36,1.89),(5.41,1.53),(5.46,1.41),(5.51,1.68),(5.56,1.79),(5.61,1.58),(5.66,1.51),(5.71,1.66),(5.76,1.35),(5.81,1.78),(5.86,1.61),(5.91,1.61),(5.96,1.71),
(6.01,1.43),(6.06,1.72),(6.11,1.5),(6.17,1.59),(6.22,1.35),(6.28,1.69),(6.33,1.48),(6.39,1.62),(6.44,1.41),(6.5,1.79),(6.56,1.57),(6.61,1.53),(6.67,1.67),(6.72,1.28),(6.78,1.71),(6.83,1.46),(6.89,1.59),(6.94,1.86),
(7.01,1.47),(7.06,1.36),(7.12,1.61),(7.19,1.72),(7.25,1.52),(7.31,1.45),(7.37,1.59),(7.44,1.3),(7.5,1.7),(7.56,1.54),(7.62,1.54),(7.69,1.63),(7.75,1.43),(7.81,1.71),(7.87,1.5),(7.94,1.58),
(8.01,1.64),(8.08,1.45),(8.14,1.58),(8.21,1.39),(8.29,1.74),(8.36,1.53),(8.43,1.49),(8.5,1.62),(8.57,1.26),(8.64,1.66),(8.71,1.43),(8.79,1.54),(8.86,1.79),(8.93,1.47),
(9.01,1.67),(9.08,1.48),(9.14,1.42),(9.21,1.55),(9.29,1.29),(9.36,1.65),(9.43,1.51),(9.5,1.5),(9.57,1.59),(9.64,1.4),(9.71,1.67),(9.79,1.47),(9.86,1.54),(9.93,1.33),
(10.08,1.57),(10.25,1.64),(10.42,1.52),(10.58,1.61),(10.75,1.55),(10.92,1.69),
(11.08,1.46),(11.25,1.25),(11.42,1.4),(11.58,1.72),(11.75,1.34),(11.92,1.64),
(12.08,1.4),(12.25,1.28),(12.42,1.47),(12.58,1.55),(12.75,1.61),(12.92,1.5),
(13.08,1.56),(13.25,1.51),(13.42,1.64),(13.58,1.44),(13.75,1.25),(13.92,1.39),
(14.08,1.66),(14.25,1.33),(14.42,1.59),(14.58,1.39),(14.75,1.28),(14.92,1.46),
]

# dense core of the NR band (S1 < 7)
nr_points_3 = [
(1.537,1.98),(1.567,1.92),(1.607,2.04),(1.637,1.87),(1.667,1.99),(1.707,1.94),(1.737,2.08),(1.767,1.88),(1.807,2.0),(1.837,1.92),(1.867,2.04),(1.907,1.82),(1.937,1.94),(1.967,1.97),(1.997,1.88),
(2.037,2.07),(2.067,1.82),(2.107,1.96),(2.137,1.89),(2.167,1.73),(2.207,1.93),(2.237,1.99),(2.267,1.84),(2.307,1.77),(2.337,1.9),(2.367,1.94),(2.407,1.85),(2.437,2.02),(2.467,1.78),(2.497,1.87),
(2.537,1.82),(2.567,1.96),(2.607,1.76),(2.637,1.88),(2.667,1.8),(2.707,1.92),(2.737,1.69),(2.767,1.83),(2.807,1.85),(2.837,1.76),(2.867,1.99),(2.907,1.74),(2.937,1.88),(2.967,1.81),(2.997,1.65),
(3.037,1.83),(3.077,1.89),(3.117,1.74),(3.147,1.67),(3.187,1.79),(3.227,1.83),(3.267,1.75),(3.307,1.92),(3.347,1.68),(3.387,1.77),(3.417,1.77),(3.457,1.71),(3.497,1.83),
(3.537,1.63),(3.577,1.76),(3.617,1.71),(3.647,1.85),(3.687,1.64),(3.727,1.77),(3.767,1.68),(3.807,1.8),(3.847,1.58),(3.887,1.71),(3.917,1.73),(3.957,1.65),(3.997,1.88),
(4.037,1.6),(4.077,1.74),(4.117,1.67),(4.147,1.52),(4.187,1.72),(4.227,1.78),(4.267,1.63),(4.307,1.57),(4.347,1.69),(4.387,1.72),(4.417,1.64),(4.457,1.81),(4.497,1.58),
(4.537,1.65),(4.577,1.65),(4.617,1.59),(4.647,1.71),(4.687,1.54),(4.727,1.67),(4.767,1.62),(4.807,1.75),(4.847,1.56),(4.887,1.68),(4.917,1.6),(4.957,1.72),(4.997,1.5),
(5.055,1.61),(5.105,1.63),(5.155,1.55),(5.205,1.76),(5.255,1.53),(5.305,1.66),(5.355,1.59),(5.405,1.45),(5.455,1.63),(5.505,1.69),(5.555,1.56),(5.605,1.5),(5.655,1.61),(5.705,1.64),(5.755,1.57),(5.805,1.72),(5.855,1.51),(5.905,1.59),(5.955,1.59),(5.995,1.54),
(6.058,1.63),(6.108,1.49),(6.168,1.6),(6.218,1.55),(6.278,1.67),(6.338,1.5),(6.388,1.61),(6.448,1.54),(6.498,1.64),(6.558,1.45),(6.608,1.56),(6.668,1.58),(6.718,1.51),(6.778,1.71),(6.838,1.49),(6.888,1.62),(6.948,1.55),(6.99,1.42),
]

# ---------------- band curves ----------------
er_mean_s1 = [1.49, 2.0, 2.5, 2.95, 3.5, 4.0, 4.47, 5.0, 5.98, 7.5, 9.0, 12.0, 15.08, 20, 25, 30, 34.6, 40, 45, 50]
er_mean = [2.46, 2.36, 2.29, 2.23, 2.17, 2.13, 2.087, 2.055, 2.009, 1.956, 1.904, 1.825, 1.779, 1.71, 1.65, 1.60, 1.567, 1.535, 1.51, 1.484]
er_hi_s1 = [1.49, 2.3, 2.95, 3.96, 4.97, 6.49, 8.0, 10.0, 12.05, 15.08, 20, 25, 30, 34.6, 40, 45, 50]
er_hi = [2.65, 2.5, 2.40, 2.31, 2.23, 2.146, 2.094, 2.035, 1.98, 1.917, 1.85, 1.79, 1.74, 1.698, 1.665, 1.64, 1.615]
er_lo_s1 = [1.49, 2.25, 2.95, 3.96, 4.97, 6.49, 8.0, 10.0, 12.05, 15.08, 20, 25, 30, 34.6, 40, 45, 50]
er_lo = [2.277, 2.153, 2.06, 1.976, 1.904, 1.825, 1.779, 1.733, 1.681, 1.622, 1.56, 1.51, 1.465, 1.431, 1.40, 1.38, 1.36]
nr_mean_s1 = [1.49, 2.45, 3.46, 4.47, 5.48, 6.99, 8.51, 10.0, 12.05, 15.08, 20, 25, 30, 34.6, 40, 45, 50]
nr_mean = [1.985, 1.851, 1.733, 1.648, 1.589, 1.55, 1.537, 1.51, 1.491, 1.452, 1.43, 1.39, 1.335, 1.294, 1.265, 1.24, 1.218]
nr_hi_s1 = [1.49, 2.45, 3.46, 4.47, 5.98, 7.5, 9.0, 12.0, 15.08, 20, 25, 30, 35, 40, 45, 50]
nr_hi = [2.2, 2.074, 1.956, 1.864, 1.786, 1.746, 1.707, 1.642, 1.596, 1.54, 1.49, 1.45, 1.41, 1.385, 1.35, 1.32]
nr_lo_s1 = [1.49, 2.45, 3.46, 4.47, 5.98, 7.5, 9.0, 12.0, 15.08, 20, 25, 30, 35, 38, 40, 42, 44, 47, 50]
nr_lo = [1.786, 1.655, 1.537, 1.445, 1.379, 1.36, 1.34, 1.327, 1.314, 1.31, 1.28, 1.24, 1.2, 1.18, 1.19, 1.2, 1.17, 1.15, 1.13]
thr_s1 = [0.18, 0.33, 0.53, 0.83, 1.24, 1.74, 2.35, 2.95, 3.96, 4.97, 6.49, 8.0, 10.0, 12.05, 14.77, 17.05, 20.7]
thr = [2.65, 2.454, 2.258, 2.061, 1.864, 1.668, 1.55, 1.471, 1.34, 1.248, 1.13, 1.032, 0.934, 0.849, 0.757, 0.685, 0.6]

# ---------------- constant-energy contours ----------------
contours_top = {
    "c01": ([1.49, 1.94, 2.45, 2.95, 3.26], [1.864, 1.602, 1.34, 1.078, 0.9]),
    "c02": ([1.49, 2.33, 3.1, 3.88, 4.65, 5.43, 6.2, 6.59, 6.98, 7.36, 7.6, 7.75],
            [2.37, 2.13, 1.96, 1.79, 1.62, 1.45, 1.27, 1.16, 1.02, 0.86, 0.72, 0.6]),
    "c03": ([1.49, 1.86, 2.48, 3.1, 3.72, 4.96, 6.2, 7.44, 8.68, 9.92, 10.54, 11.16, 11.78, 12.15, 12.4],
            [2.59, 2.49, 2.35, 2.24, 2.13, 1.96, 1.79, 1.62, 1.45, 1.27, 1.16, 1.02, 0.86, 0.72, 0.6]),
    "c04": ([3.0, 3.46, 4.33, 5.19, 6.92, 8.65, 10.38, 12.11, 13.84, 14.71, 15.57, 16.44, 16.95, 17.3],
            [2.40, 2.35, 2.24, 2.13, 1.96, 1.79, 1.62, 1.45, 1.27, 1.16, 1.02, 0.86, 0.72, 0.6]),
    "c05": ([6.0, 6.69, 8.92, 11.15, 13.38, 15.61, 17.84, 18.96, 20.07, 21.19, 21.85, 22.3],
            [2.18, 2.13, 1.96, 1.79, 1.62, 1.45, 1.27, 1.16, 1.02, 0.86, 0.72, 0.6]),
    "c06": ([9.3, 11.0, 13.75, 16.5, 19.25, 22.0, 23.38, 24.75, 26.13, 26.95, 27.5],
            [2.055, 1.96, 1.79, 1.62, 1.45, 1.27, 1.16, 1.02, 0.86, 0.72, 0.6]),
    "c07": ([13.1, 16.38, 19.65, 22.93, 26.2, 27.84, 29.48, 31.11, 32.1, 32.75],
            [1.96, 1.79, 1.62, 1.45, 1.27, 1.16, 1.02, 0.86, 0.72, 0.6]),
    "c08": ([16.8, 19.15, 22.98, 26.81, 30.64, 32.56, 34.47, 36.39, 37.53, 38.3],
            [1.89, 1.79, 1.62, 1.45, 1.27, 1.16, 1.02, 0.86, 0.72, 0.6]),
    "c09": ([20.5, 21.93, 26.31, 30.7, 35.08, 37.27, 39.47, 41.66, 42.97, 43.85],
            [1.845, 1.79, 1.62, 1.45, 1.27, 1.16, 1.02, 0.86, 0.72, 0.6]),
    "c10": ([24.5, 29.64, 34.58, 39.52, 41.99, 44.46, 46.93, 48.41, 49.4],
            [1.795, 1.62, 1.45, 1.27, 1.16, 1.02, 0.86, 0.72, 0.6]),
    "c11": ([28.7, 33.0, 38.5, 44.0, 46.75, 50], [1.753, 1.62, 1.45, 1.27, 1.16, 0.97]),
    "c12": ([33.0, 36.36, 42.42, 48.48, 50], [1.715, 1.62, 1.45, 1.27, 1.19]),
    "c13": ([37.6, 40.02, 46.69, 50], [1.68, 1.62, 1.45, 1.34]),
    "c14": ([41.9, 43.44, 50], [1.655, 1.62, 1.45]),
    "c15": ([46.8, 47.28, 50], [1.63, 1.62, 1.54]),
    "c16": ([49.7, 50], [1.617, 1.61]),
}
contours_bot = {
    "c01": contours_top["c01"],
    "c02": contours_top["c02"],
    "c03": ([2.95, 3.72, 4.96, 6.2, 7.44, 8.68, 9.92, 10.54, 11.16, 11.78, 12.15, 12.4],
            [2.23, 2.13, 1.96, 1.79, 1.62, 1.45, 1.27, 1.16, 1.02, 0.86, 0.72, 0.6]),
    "c04": ([6.0, 6.92, 8.65, 10.38, 12.11, 13.84, 14.71, 15.57, 16.44, 16.95, 17.3],
            [2.01, 1.96, 1.79, 1.62, 1.45, 1.27, 1.16, 1.02, 0.86, 0.72, 0.6]),
    "c05": ([9.0, 11.15, 13.38, 15.61, 17.84, 18.96, 20.07, 21.19, 21.85, 22.3],
            [1.905, 1.79, 1.62, 1.45, 1.27, 1.16, 1.02, 0.86, 0.72, 0.6]),
    "c06": ([12.8, 16.5, 19.25, 22.0, 23.38, 24.75, 26.13, 26.95, 27.5],
            [1.82, 1.62, 1.45, 1.27, 1.16, 1.02, 0.86, 0.72, 0.6]),
    "c07": ([17.0, 19.65, 22.93, 26.2, 27.84, 29.48, 31.11, 32.1, 32.75],
            [1.755, 1.62, 1.45, 1.27, 1.16, 1.02, 0.86, 0.72, 0.6]),
    "c08": ([21.2, 22.98, 26.81, 30.64, 32.56, 34.47, 36.39, 37.53, 38.3],
            [1.695, 1.62, 1.45, 1.27, 1.16, 1.02, 0.86, 0.72, 0.6]),
    "c09": ([25.7, 30.7, 35.08, 37.27, 39.47, 41.66, 42.97, 43.85],
            [1.645, 1.45, 1.27, 1.16, 1.02, 0.86, 0.72, 0.6]),
    "c10": ([29.8, 34.58, 39.52, 41.99, 44.46, 46.93, 48.41, 49.4],
            [1.6, 1.45, 1.27, 1.16, 1.02, 0.86, 0.72, 0.6]),
    "c11": ([34.8, 38.5, 44.0, 46.75, 50], [1.565, 1.45, 1.27, 1.16, 0.97]),
    "c12": ([39.2, 42.42, 48.48, 50], [1.54, 1.45, 1.27, 1.19]),
    "c13": ([44.2, 46.69, 50], [1.515, 1.45, 1.34]),
    "c14": ([48.7, 50], [1.49, 1.45]),
}

ee_labels = ["0.4", "0.8", "1.3", "1.8", "2.4", "2.9", "3.5", "4.1", "4.6"]
nr_labels = ["3", "6", "9", "12", "15", "18", "21", "24", "27"]
label_s1_top = [3.35, 7.75, 12.41, 17.23, 22.18, 27.35, 32.56, 38.05, 43.56]
label_s1_bot = [3.38, 7.75, 12.41, 17.23, 22.2, 27.35, 32.6, 38.1, 43.6]
label_y_top = [0.922, 0.672, 0.672, 0.672, 0.672, 0.672, 0.672, 0.672, 0.672]
label_y_bot = [0.929, 0.682, 0.682, 0.682, 0.682, 0.682, 0.682, 0.682, 0.682]

# ---------------- helpers ----------------
xs = alt.Scale(domain=[0, 50], nice=False, zero=False)
ys = alt.Scale(domain=[0.6, 2.65], nice=False, zero=False)

y_axis = alt.Axis(values=y_ticks, labelExpr="datum.value + ''", labelFont=FONT, labelFontSize=53,
                  labelColor="black", labelPadding=12, labelFlush=False, ticks=False, tickSize=0,
                  domain=False, grid=False, title=None)
x_axis_bot = alt.Axis(values=x_ticks, format="d", labelFont=FONT, labelFontSize=53, labelColor="black",
                      labelPadding=64, labelBaseline="alphabetic", labelFlush=False, ticks=False, tickSize=0,
                      domain=False, grid=False, title="S1 x,y,z corrected (phe)", titleFont=FONT,
                      titleFontSize=54, titleFontWeight="normal", titleColor="black",
                      titleX=813, titleY=123, titleBaseline="alphabetic")
X_TOP = alt.X("s:Q", scale=xs, axis=None)
X_BOT = alt.X("s:Q", scale=xs, axis=x_axis_bot)
Y_ENC = alt.Y("y:Q", scale=ys, axis=y_axis)


def curve(s, y, color, X, dash=None, width=4):
    kw = dict(color=color, strokeWidth=width, clip=True, interpolate="monotone", strokeCap="butt")
    if dash:
        kw["strokeDash"] = dash
    return alt.Chart(pd.DataFrame({"s": s, "y": y})).mark_line(**kw).encode(x=X, y=Y_ENC)


def contour_layer(contours, X):
    rows = []
    for name, (s, y) in contours.items():
        for a, b in zip(s, y):
            rows.append({"s": a, "y": b, "c": name})
    return alt.Chart(pd.DataFrame(rows)).mark_line(
        color=GRAY, strokeWidth=3.2, clip=True, interpolate="monotone").encode(x=X, y=Y_ENC, detail="c:N")


def text(t, s, y, size, color, X, dx=0, dy=0):
    return alt.Chart(pd.DataFrame({"s": [s], "y": [y], "t": [t]})).mark_text(
        align="left", baseline="alphabetic", font=FONT, fontSize=size, color=color, dx=dx, dy=dy
    ).encode(x=X, y=Y_ENC, text="t:N")


def labels(texts, s, y, X):
    return alt.Chart(pd.DataFrame({"s": s, "y": y, "t": texts})).mark_text(
        align="left", baseline="alphabetic", font=FONT, fontSize=45, color=GRAY
    ).encode(x=X, y=Y_ENC, text="t:N")


def vtext(t, px, py, size):
    return alt.Chart(pd.DataFrame({"t": [t]})).mark_text(
        angle=270, align="left", baseline="alphabetic", font=FONT, fontSize=size, color="black"
    ).encode(x=alt.value(px), y=alt.value(py), text="t:N")


def frame_ticks(X, H):
    xt = pd.DataFrame({"s": x_ticks})
    yt = pd.DataFrame({"y": y_ticks})
    r = dict(color="black", strokeWidth=2)
    return [
        alt.Chart(xt).mark_rule(**r).encode(x=X, y=alt.value(H), y2=alt.value(H - 16)),
        alt.Chart(xt).mark_rule(**r).encode(x=X, y=alt.value(0), y2=alt.value(16)),
        alt.Chart(yt).mark_rule(**r).encode(y=Y_ENC, x=alt.value(0), x2=alt.value(16)),
        alt.Chart(yt).mark_rule(**r).encode(y=Y_ENC, x=alt.value(W), x2=alt.value(W - 16)),
    ]


er_df = pd.DataFrame(er_points + er_points_2 + er_points_3, columns=["s", "y"])
nr_df = pd.DataFrame(nr_points + nr_points_2 + nr_points_3, columns=["s", "y"])

# ---------------- panel (a) ----------------
top_layers = [
    alt.Chart(er_df).mark_circle(size=38, color="black", opacity=1, clip=True).encode(x=X_TOP, y=Y_ENC),
    contour_layer(contours_top, X_TOP),
    curve(thr_s1, thr, MAGENTA, X_TOP, dash=[20, 9, 3, 9]),
    curve(nr_mean_s1, nr_mean, RED, X_TOP),
    curve(er_mean_s1, er_mean, BLUE, X_TOP),
    curve(er_hi_s1, er_hi, BLUE, X_TOP, dash=[18, 11]),
    curve(er_lo_s1, er_lo, BLUE, X_TOP, dash=[18, 11]),
    labels(ee_labels, label_s1_top, label_y_top, X_TOP),
    text("keV", 0.83, 0.718, 45, GRAY, X_TOP),
    text("ee", 3.26, 0.633, 33, GRAY, X_TOP),
    text("(a) Tritium ER Calibration", 25.05, 2.236, 46.5, "black", X_TOP),
] + frame_ticks(X_TOP, H1)
top = alt.layer(*top_layers).properties(width=W, height=H1)

# ---------------- panel (b) ----------------
bot_layers = [
    alt.Chart(nr_df).mark_point(shape="M-1,-1L1,1M-1,1L1,-1", size=170, strokeWidth=3.6, color="black",
                                filled=False, opacity=1, clip=True).encode(x=X_BOT, y=Y_ENC),
    contour_layer(contours_bot, X_BOT),
    curve(thr_s1, thr, MAGENTA, X_BOT, dash=[20, 9, 3, 9]),
    curve(er_mean_s1, er_mean, BLUE, X_BOT),
    curve(nr_mean_s1, nr_mean, RED, X_BOT),
    curve(nr_hi_s1, nr_hi, RED, X_BOT, dash=[18, 10]),
    curve(nr_lo_s1, nr_lo, RED, X_BOT, dash=[18, 10]),
    labels(nr_labels, label_s1_bot, label_y_bot, X_BOT),
    text("keV", 0.83, 0.727, 45, GRAY, X_BOT),
    text("nr", 3.26, 0.65, 33, GRAY, X_BOT),
    text("(b) AmBe and Cf\u2212252 NR Calibration", 25.05, 2.236, 46.5, "black", X_BOT),
    text("Events at low (S2", 24.35, 2.089, 37, NOTE, X_BOT),
    text("b", 24.35, 2.089, 24, NOTE, X_BOT, dx=287.9, dy=7),
    text("/S1) due to neutron+X and", 24.35, 2.089, 37, NOTE, X_BOT, dx=301.2),
    text("multiple scatters where S2 is below reconstruction", 24.35, 1.935, 37, NOTE, X_BOT),
    text("threshold (all features of calibs, but not WIMPs!)", 24.35, 1.781, 37, NOTE, X_BOT),
    vtext("log", -139.5, 306, 51),
    vtext("10", -115, 238, 35),
    vtext("(S2", -139.5, 199.1, 51),
    vtext("b", -115, 119.7, 35),
    vtext("/S1) x,y,z corrected", -139.5, 100.2, 51),
] + frame_ticks(X_BOT, H2)
bottom = alt.layer(*bot_layers).properties(width=W, height=H2)

chart = alt.vconcat(top, bottom, spacing=0, bounds="flush").properties(
    padding={"left": 17, "top": 10, "right": 5, "bottom": 5}
).configure_view(stroke="black", strokeWidth=2.5)

chart.save("out.html", embed_options={"renderer": "svg", "actions": False})
